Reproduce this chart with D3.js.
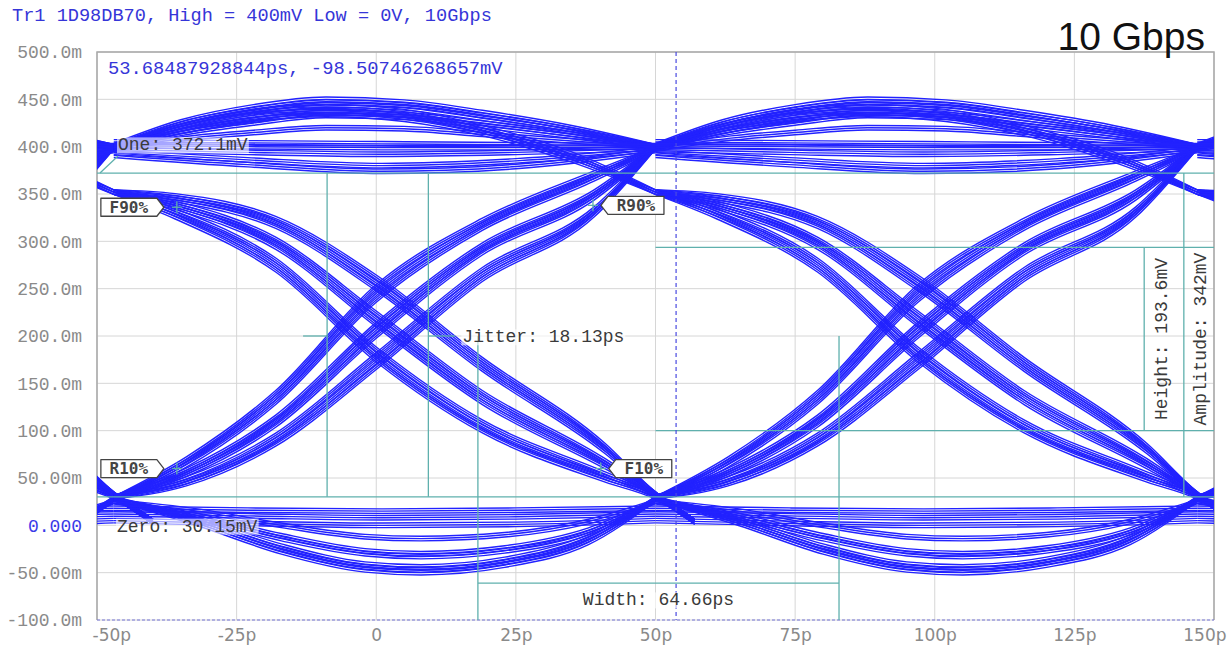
<!DOCTYPE html>
<html>
<head>
<meta charset="utf-8">
<script src="https://cdn.jsdelivr.net/npm/d3@7"></script>
<style>
body { margin: 0; background: #fff; }
</style>
</head>
<body>
<svg id="eye"></svg>
<script>
var width = 1232;
var height = 655;
var plotLeft = 97, plotRight = 1214, plotTop = 52, plotBottom = 620;

// axis ticks
var timeTicks = [-50, -25, 0, 25, 50, 75, 100, 125, 150];
var timeTickLabels = ['-50p', '-25p', '0', '25p', '50p', '75p', '100p', '125p', '150p'];
var voltTicks = [500, 450, 400, 350, 300, 250, 200, 150, 100, 50, 0, -50, -100];
var voltTickLabels = ['500.0m', '450.0m', '400.0m', '350.0m', '300.0m', '250.0m', '200.0m',
  '150.0m', '100.0m', '50.00m', '0.000', '-50.00m', '-100.0m'];

// each unit interval (bit) starts at one of these times (ps)
var uiStarts = [-144, -47, 50, 147];

// trace families, times in ps from the UI start, values in mV
var riseTimes = [0, 13, 29, 47, 66, 86, 97];
var riseTraces = [
  [28, 70, 140, 252, 322, 372, 398],
  [28, 67, 135, 245, 318, 369, 398],
  [28, 64, 130, 238, 314, 366, 398],
  [29, 58, 114, 212, 296, 352, 399],
  [29, 56, 110, 206, 292, 349, 399],
  [29, 54, 106, 200, 288, 346, 399],
  [30, 49, 95, 180, 270, 334, 400],
  [30, 46, 90, 173, 265, 331, 400],
  [30, 44, 86, 167, 260, 328, 400]
];
var fallTimes = [0, 11, 29, 47, 66, 88, 97, 104];
var fallTraces = [
  [352, 326, 270, 175, 100, 48, 30, 4],
  [352, 329, 275, 180, 104, 51, 31, 4],
  [352, 332, 280, 186, 109, 54, 31, 4],
  [352, 336, 294, 212, 130, 62, 32, 4],
  [352, 338, 298, 218, 135, 65, 32, 4],
  [352, 340, 302, 224, 140, 68, 32, 4],
  [352, 344, 316, 250, 165, 78, 33, 4],
  [352, 346, 320, 256, 170, 81, 33, 4],
  [352, 348, 324, 262, 175, 84, 33, 4]
];
var bumpTimes = [0, 12, 25, 38, 52, 66, 82, 97];
var bumpTraces = [
  [401, 426, 442, 450, 447, 436, 420, 400],
  [400, 424, 439, 447, 444, 433, 418, 400],
  [400, 421, 436, 444, 441, 430, 416, 400],
  [399, 416, 428, 436, 434, 425, 413, 400],
  [399, 414, 425, 433, 431, 422, 411, 400],
  [398, 408, 415, 420, 419, 413, 406, 400]
];
var bumpDownTraces = [
  [400, 422, 437, 442, 437, 420, 392, 352],
  [399, 419, 433, 438, 433, 417, 389, 352],
  [398, 416, 429, 434, 429, 414, 386, 352]
];
var highTimes = [0, 24, 48, 72, 97];
var highTraces = [
  [405, 404, 403, 402, 401],
  [401, 400, 399, 399, 400],
  [397, 394, 392, 394, 398],
  [394, 386, 380, 385, 397],
  [391, 381, 374, 379, 396]
];
var dipTimes = [0, 15, 30, 45, 55, 70, 85, 97];
var dipTraces = [
  [28, 2, -28, -47, -50, -42, -18, 28],
  [28, 4, -25, -44, -47, -39, -15, 28],
  [28, 6, -22, -41, -44, -36, -12, 28],
  [26, 8, -14, -30, -33, -27, -8, 26],
  [26, 10, -11, -27, -30, -24, -5, 26],
  [25, 15, 0, -12, -14, -10, 4, 25]
];
var lowTimes = [0, 24, 48, 72, 97];
var lowTraces = [
  [18, 16, 15, 16, 18],
  [12, 10, 8, 9, 12],
  [5, 2, 0, 1, 5]
];
// every listed trace is drawn as a small band of lines (mV)
var bandOffsets = [-2.4, 0, 2.4];

// measurements
var oneLevel = 372.1;
var zeroLevel = 30.15;
var jitterEdges = [-8.8, 9.33];
var widthEdges = [18.2, 82.86];
var widthLevel = -61;
var eyeLevels = [100, 293.6];
var eyeFrom = 50;
var heightAt = 137.5;
var amplitudeAt = 144.6;
var cursorTime = 53.68487928844;
var cursorVolt = -98.50746268657;
var tags = [
  { text: 'F90%', t: -35.7, v: 336, side: 'left' },
  { text: 'R10%', t: -35.7, v: 60, side: 'left' },
  { text: 'R90%', t: 38.8, v: 338, side: 'right' },
  { text: 'F10%', t: 40.2, v: 60, side: 'right' }
];

var traceColor = '#2222ff';
var markColor = '#5fb0ad';
var labelColor = '#3a3a3a';
var monoFont = "'Liberation Mono', 'DejaVu Sans Mono', monospace";

var svg = d3.select('#eye')
  .attr('width', width)
  .attr('height', height)
  .attr('font-family', monoFont);

svg.append('rect')
  .attr('width', width)
  .attr('height', height)
  .attr('fill', '#fff');

var xScale = d3.scaleLinear()
  .domain([-50, 150])
  .range([plotLeft, plotRight]);

var yScale = d3.scaleLinear()
  .domain([-100, 500])
  .range([plotBottom, plotTop]);

svg.append('clipPath')
  .attr('id', 'plot-clip')
  .append('rect')
    .attr('x', plotLeft)
    .attr('y', plotTop)
    .attr('width', plotRight - plotLeft)
    .attr('height', plotBottom - plotTop);

// grid
var grid = svg.append('g');
grid.selectAll('.vgrid')
  .data(timeTicks)
  .enter().append('line')
    .attr('x1', function(d) { return xScale(d); })
    .attr('x2', function(d) { return xScale(d); })
    .attr('y1', plotTop)
    .attr('y2', plotBottom)
    .attr('stroke', '#d6d6d6');
grid.selectAll('.hgrid')
  .data(voltTicks)
  .enter().append('line')
    .attr('x1', plotLeft)
    .attr('x2', plotRight)
    .attr('y1', function(d) { return yScale(d); })
    .attr('y2', function(d) { return yScale(d); })
    .attr('stroke', '#d6d6d6');

// axes
var yAxis = svg.append('g')
  .attr('transform', 'translate(' + plotLeft + ',0)')
  .call(d3.axisLeft(yScale)
    .tickValues(voltTicks)
    .tickSize(0)
    .tickPadding(15)
    .tickFormat(function(d, i) { return voltTickLabels[i]; }));
yAxis.select('.domain').remove();
yAxis.selectAll('text')
  .attr('font-family', monoFont)
  .attr('font-size', 18)
  .attr('fill', function(d) { return d == 0 ? '#3a3ae8' : '#8a8a8a'; });

var xAxis = svg.append('g')
  .attr('transform', 'translate(0,' + plotBottom + ')')
  .call(d3.axisBottom(xScale)
    .tickValues(timeTicks)
    .tickSize(0)
    .tickPadding(9)
    .tickFormat(function(d, i) { return timeTickLabels[i]; }));
xAxis.select('.domain').remove();
xAxis.selectAll('text')
  .attr('font-family', "'DejaVu Sans', sans-serif")
  .attr('font-size', 17)
  .attr('fill', '#8a8a8a');
// keep the end labels inside the picture
xAxis.selectAll('.tick').filter(function(d, i) { return i == 0; }).select('text')
  .attr('text-anchor', 'start').attr('x', -5);
xAxis.selectAll('.tick').filter(function(d, i) { return i == timeTicks.length - 1; }).select('text')
  .attr('text-anchor', 'end').attr('x', 12);

// frame
svg.append('path')
  .attr('d', 'M' + plotLeft + ',' + plotBottom + 'V' + plotTop + 'H' + plotRight + 'V' + plotBottom)
  .attr('fill', 'none')
  .attr('stroke', '#a8a8a8')
  .attr('stroke-width', 1.5);
svg.append('line')
  .attr('x1', plotLeft).attr('x2', plotRight)
  .attr('y1', plotBottom).attr('y2', plotBottom)
  .attr('stroke', '#7474d8')
  .attr('stroke-dasharray', '3,2');

// traces
var traceLine = d3.line()
  .x(function(d) { return xScale(d[0]); })
  .y(function(d) { return yScale(d[1]); })
  .curve(d3.curveMonotoneX);

var families = [
  [riseTimes, riseTraces],
  [fallTimes, fallTraces],
  [bumpTimes, bumpTraces],
  [bumpTimes, bumpDownTraces],
  [highTimes, highTraces],
  [dipTimes, dipTraces],
  [lowTimes, lowTraces]
];

var tracePaths = [];
uiStarts.forEach(function(start) {
  families.forEach(function(f) {
    f[1].forEach(function(values) {
      bandOffsets.forEach(function(off) {
        tracePaths.push(values.map(function(v, i) { return [start + f[0][i], v + off]; }));
      });
    });
  });
});

svg.append('g')
  .attr('clip-path', 'url(#plot-clip)')
  .selectAll('path')
  .data(tracePaths)
  .enter().append('path')
    .attr('d', traceLine)
    .attr('fill', 'none')
    .attr('stroke', traceColor)
    .attr('stroke-width', 1.4);

// measurement marks
var marks = svg.append('g')
  .attr('stroke', markColor)
  .attr('stroke-width', 1.3)
  .attr('fill', 'none');

function markLine(t1, v1, t2, v2) {
  marks.append('line')
    .attr('x1', xScale(t1)).attr('y1', yScale(v1))
    .attr('x2', xScale(t2)).attr('y2', yScale(v2));
}

markLine(-50, oneLevel, 150, oneLevel);
markLine(-50, zeroLevel, 150, zeroLevel);
markLine(jitterEdges[0], oneLevel, jitterEdges[0], zeroLevel);
markLine(jitterEdges[1], oneLevel, jitterEdges[1], zeroLevel);
markLine(jitterEdges[0] - 4.3, 200, jitterEdges[0], 200);
markLine(jitterEdges[1], 200, jitterEdges[1] + 4.8, 200);
markLine(widthEdges[0], 200, widthEdges[0], -100);
markLine(widthEdges[1], 200, widthEdges[1], -100);
markLine(widthEdges[0], widthLevel, widthEdges[1], widthLevel);
markLine(eyeFrom, eyeLevels[0], 150, eyeLevels[0]);
markLine(eyeFrom, eyeLevels[1], 150, eyeLevels[1]);
markLine(heightAt, eyeLevels[0], heightAt, eyeLevels[1]);
markLine(amplitudeAt, zeroLevel, amplitudeAt, oneLevel);

// leader for the one level label
marks.append('line')
  .attr('x1', plotLeft + 3).attr('y1', yScale(oneLevel))
  .attr('x2', plotLeft + 21).attr('y2', yScale(oneLevel) - 17);

// cursor
svg.append('line')
  .attr('x1', xScale(cursorTime)).attr('x2', xScale(cursorTime))
  .attr('y1', plotTop).attr('y2', plotBottom)
  .attr('stroke', '#4a4ae0')
  .attr('stroke-width', 1.2)
  .attr('stroke-dasharray', '4,3');

// text labels with a light backing
function boxedText(x, y, str, anchor) {
  var g = svg.append('g');
  var t = g.append('text')
    .attr('x', x).attr('y', y)
    .attr('dy', '0.35em')
    .attr('text-anchor', anchor || 'start')
    .attr('font-size', 18)
    .attr('fill', labelColor)
    .text(str);
  var b = t.node().getBBox();
  g.insert('rect', 'text')
    .attr('x', b.x - 1).attr('y', b.y + 2)
    .attr('width', b.width + 2).attr('height', b.height - 4)
    .attr('fill', '#fff')
    .attr('fill-opacity', 0.6);
  return g;
}

boxedText(plotLeft + 21, yScale(oneLevel) - 29, 'One: ' + oneLevel + 'mV');
boxedText(plotLeft + 20, yScale(0), 'Zero: ' + zeroLevel + 'mV');
boxedText(xScale(jitterEdges[1]) + 34, yScale(200), 'Jitter: ' + d3.format('.2f')(jitterEdges[1] - jitterEdges[0]) + 'ps');
boxedText((xScale(widthEdges[0]) + xScale(widthEdges[1])) / 2, yScale(widthLevel) + 16,
  'Width: ' + d3.format('.2f')(widthEdges[1] - widthEdges[0]) + 'ps', 'middle');

svg.append('text')
  .attr('transform', 'translate(' + (xScale(heightAt) + 16) + ',' + yScale((eyeLevels[0] + eyeLevels[1]) / 2) + ') rotate(-90)')
  .attr('text-anchor', 'middle')
  .attr('dy', '0.35em')
  .attr('font-size', 18)
  .attr('fill', labelColor)
  .text('Height: ' + d3.format('.1f')(eyeLevels[1] - eyeLevels[0]) + 'mV');

svg.append('text')
  .attr('transform', 'translate(' + (xScale(amplitudeAt) + 16) + ',' + yScale((eyeLevels[0] + eyeLevels[1]) / 2) + ') rotate(-90)')
  .attr('text-anchor', 'middle')
  .attr('dy', '0.35em')
  .attr('font-size', 18)
  .attr('fill', labelColor)
  .text('Amplitude: ' + Math.round(oneLevel - zeroLevel) + 'mV');

// level tags
tags.forEach(function(d) {
  var px = xScale(d.t), py = yScale(d.v);
  marks.append('line')
    .attr('x1', px - 5).attr('x2', px + 5)
    .attr('y1', py).attr('y2', py);
  marks.append('line')
    .attr('x1', px).attr('x2', px)
    .attr('y1', py - 6).attr('y2', py + 6);

  var w = 56, h = 18, tip = 7;
  var tipX = d.side == 'left' ? px - 13 : px + 8;
  var path;
  if (d.side == 'left') {
    path = 'M' + (tipX - tip - w) + ',' + (py - h / 2) + 'H' + (tipX - tip) + 'L' + tipX + ',' + py +
      'L' + (tipX - tip) + ',' + (py + h / 2) + 'H' + (tipX - tip - w) + 'Z';
  } else {
    path = 'M' + (tipX + tip + w) + ',' + (py - h / 2) + 'H' + (tipX + tip) + 'L' + tipX + ',' + py +
      'L' + (tipX + tip) + ',' + (py + h / 2) + 'H' + (tipX + tip + w) + 'Z';
  }
  svg.append('path')
    .attr('d', path)
    .attr('fill', '#fff')
    .attr('stroke', '#444')
    .attr('stroke-width', 1.3)
    .attr('stroke-linejoin', 'round');
  svg.append('text')
    .attr('x', d.side == 'left' ? tipX - tip - w / 2 : tipX + tip + w / 2)
    .attr('y', py)
    .attr('dy', '0.36em')
    .attr('text-anchor', 'middle')
    .attr('font-family', "'DejaVu Sans Mono', monospace")
    .attr('font-weight', 'bold')
    .attr('font-size', 16)
    .attr('fill', '#444')
    .text(d.text);
});

// headers
svg.append('text')
  .attr('x', 12).attr('y', 21)
  .attr('font-size', 18.6)
  .attr('fill', '#3535d8')
  .text('Tr1 1D98DB70, High = 400mV Low = 0V, 10Gbps');

svg.append('text')
  .attr('x', plotLeft + 11).attr('y', 74)
  .attr('font-size', 18.8)
  .attr('fill', '#3535d8')
  .text(cursorTime + 'ps, ' + cursorVolt + 'mV');

svg.append('text')
  .attr('x', 1205).attr('y', 50)
  .attr('text-anchor', 'end')
  .attr('font-family', "'Liberation Sans', Arial, sans-serif")
  .attr('font-size', 39)
  .attr('fill', '#111')
  .text('10 Gbps');
</script>
</body>
</html>
